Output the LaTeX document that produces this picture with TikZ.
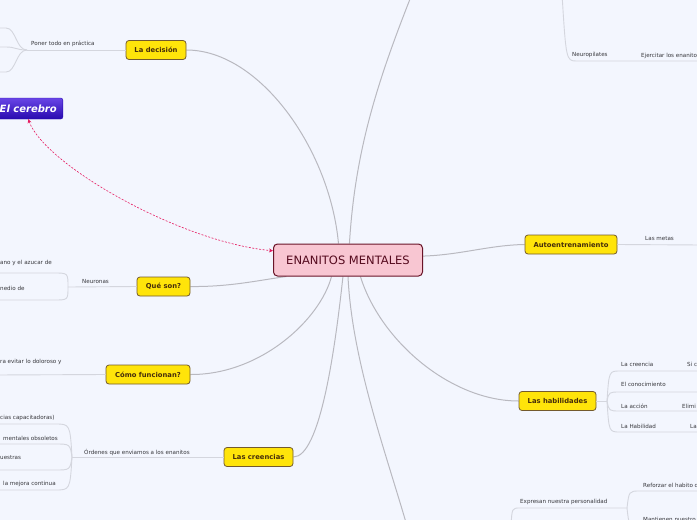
\documentclass[tikz,border=0pt]{standalone}
\usepackage{fontspec}
\setmainfont{DejaVu Sans}
\usepackage{tikz}
\usetikzlibrary{positioning,arrows.meta,backgrounds,calc}
\usepackage{xcolor}
\definecolor{bgblue}{RGB}{243,246,254}
\definecolor{topicfill}{RGB}{255,228,10}
\definecolor{topicdraw}{RGB}{115,90,45}
\definecolor{topictext}{RGB}{70,45,10}
\definecolor{rootfill}{RGB}{248,198,210}
\definecolor{rootdraw}{RGB}{105,20,40}
\definecolor{roottext}{RGB}{85,10,30}
\definecolor{cerebrotop}{RGB}{105,70,230}
\definecolor{cerebrobot}{RGB}{40,10,175}
\definecolor{branchgray}{RGB}{185,185,192}
\definecolor{leafgray}{RGB}{212,214,222}
\definecolor{labeltext}{RGB}{55,55,60}
\definecolor{linkred}{RGB}{230,25,95}

\begin{document}
\begin{tikzpicture}[
  x=1pt, y=-1pt,
  root/.style={draw=rootdraw, fill=rootfill, text=roottext, rounded corners=4pt, line width=1pt,
               minimum width=149pt, minimum height=32pt, font=\fontsize{11.5}{12}\selectfont},
  topic/.style={draw=topicdraw, fill=topicfill, text=topictext, rounded corners=3pt, line width=0.8pt,
                minimum height=19pt, inner xsep=0pt, font=\fontsize{6.8}{8}\selectfont\bfseries},
  cerebro/.style={top color=cerebrotop, bottom color=cerebrobot, draw=cerebrobot, rounded corners=2pt,
                  text=white, minimum height=21pt, inner xsep=6pt, font=\fontsize{10}{12}\selectfont\bfseries\itshape},
  leaf/.style={text=labeltext, inner sep=0pt, anchor=west, font=\fontsize{5.6}{7}\selectfont},
  branch/.style={draw=branchgray, line width=1pt},
  twig/.style={draw=leafgray, line width=0.9pt},
  link/.style={{Stealth[length=4pt,width=4pt]}-{Stealth[length=4pt,width=4pt]}, draw=linkred,
               dash pattern=on 2pt off 1.5pt, line width=0.6pt},
]
\useasboundingbox (0,0) rectangle (697,520);

% Root and main topics
\node[root] (root) at (348,260) {ENANITOS MENTALES};
\node[topic, minimum width=60pt] (decision) at (156,50) {La decisión};
\node[topic, minimum width=53pt] (queson) at (163.5,286.5) {Qué son?};
\node[topic, minimum width=84pt] (como) at (148,374.5) {Cómo funcionan?};
\node[topic, minimum width=69pt] (creencias) at (258.5,457) {Las creencias};
\node[topic, minimum width=92pt] (auto) at (571,244.5) {Autoentrenamiento};
\node[topic, minimum width=77pt] (habilidades) at (557.5,401) {Las habilidades};
\node[cerebro, anchor=east] (cerebro) at (63,108.5) {El cerebro};

% Branches running out of the picture
\coordinate (upper) at (412,-6);
\coordinate (lower) at (407,526);

\begin{scope}[on background layer]
\fill[bgblue] (0,0) rectangle (697,520);
\draw[branch] (root.120) .. controls (330,150) and (260,50) .. (decision.east);
\draw[branch] (root.85) .. controls (355,150) and (378,80) .. (upper);
\draw[branch] (root.195) .. controls (260,280) and (230,287) .. (queson.east);
\draw[branch] (root.225) .. controls (320,320) and (260,375) .. (como.east);
\draw[branch] (root.253) .. controls (335,350) and (320,457) .. (creencias.east);
\draw[branch] (root.270) .. controls (352,360) and (385,450) .. (lower);
\draw[branch] (root.307) .. controls (380,340) and (450,401) .. (habilidades.west);
\draw[branch] (root.3) .. controls (460,255) and (490,245) .. (auto.west);
\end{scope}

% Relation between El cerebro and the root
\draw[link] (cerebro.south) .. controls (45,165) and (180,242) .. (root.173);

% La decision
\coordinate (f-dec) at (27,50);
\node[leaf] (poner) at (31,44) {Poner todo en práctica};
\draw[twig] (decision.west) -- (f-dec);
\foreach \y in {28,47,72}
  \draw[twig] (f-dec) .. controls (16,50) and (16,\y) .. (6,\y) -- (-5,\y);

% Que son?
\coordinate (f-que) at (68,287);
\node[leaf] (neuronas) at (82,281) {Neuronas};
\node[leaf] (azucar) at (0,263) {ano y el azucar de};
\node[leaf] (medio) at (0,288) {nedio de};
\draw[twig] (queson.west) -- (f-que);
\foreach \y in {273,300}
  \draw[twig] (f-que) .. controls (68,\y) .. (54,\y) -- (-5,\y);

% Como funcionan?
\coordinate (e-como) at (-5,375);
\node[leaf] (evitar) at (0,362) {ra evitar lo doloroso y};
\draw[twig] (como.west) -- (e-como);

% Las creencias
\coordinate (f-cre) at (72,457);
\node[leaf] (ordenes) at (84,452) {Órdenes que enviamos a los enanitos};
\node[leaf] (capac) at (0,418) {cias capacitadoras)};
\node[leaf] (obsol) at (3,438) {mentales obsoletos};
\node[leaf] (nuestras) at (0,458) {uestras};
\node[leaf] (mejora) at (3,484) {la mejora continua};
\draw[twig] (creencias.west) -- (f-cre);
\foreach \y in {424,444,470,490}
  \draw[twig] (f-cre) .. controls (70,\y) .. (55,\y) -- (-5,\y);

% Autoentrenamiento
\coordinate (e-auto) at (702,245);
\node[leaf] (metas) at (645,238) {Las metas};
\draw[twig] (auto.east) -- (e-auto);

% Las habilidades
\coordinate (f-hab) at (607,401);
\node[leaf] (h1) at (621,364) {La creencia};
\node[leaf] (h1b) at (687,364) {Si c};
\node[leaf] (h2) at (621,384) {El conocimiento};
\node[leaf] (h3) at (621,406) {La acción};
\node[leaf] (h3b) at (682,406) {Elimi};
\node[leaf] (h4) at (621,426) {La Habilidad};
\node[leaf] (h4b) at (690,426) {La};
\draw[twig] (habilidades.east) -- (f-hab);
\foreach \y in {371,392,411,432}
  \draw[twig] (f-hab) .. controls (609,\y) .. (620,\y) -- (702,\y);

% Neuropilates (upper right)
\coordinate (tr-in) at (562,-6);
\coordinate (tr-out) at (702,61);
\node[leaf] (neuro) at (572,55) {Neuropilates};
\node[leaf] (ejercitar) at (641,56) {Ejercitar los enanitos};
\draw[twig] (tr-in) .. controls (566,58) and (566,61) .. (576,61) -- (tr-out);

% Personalidad (lower right)
\coordinate (br-in) at (511,526);
\coordinate (f-exp) at (627,508);
\node[leaf] (expresan) at (520,502) {Expresan nuestra personalidad};
\node[leaf] (reforzar) at (643,485) {Reforzar el habito de};
\node[leaf] (mantienen) at (643,519) {Mantienen nuestro};
\draw[twig] (br-in) .. controls (512,508) .. (520,508) -- (f-exp);
\foreach \y in {491,526}
  \draw[twig] (f-exp) .. controls (629,\y) .. (640,\y) -- (702,\y);
\end{tikzpicture}
\end{document}
